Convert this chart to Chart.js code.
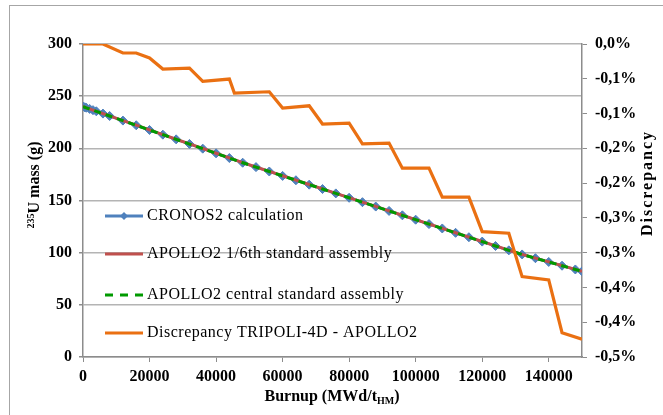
<!DOCTYPE html>
<html>
<head>
<meta charset="utf-8">
<script src="https://cdn.jsdelivr.net/npm/chart.js@4.4.1/dist/chart.umd.min.js"></script>
<style>
  html, body { margin: 0; padding: 0; background: #fff; }
  #wrap { width: 663px; height: 415px; position: relative; }
</style>
</head>
<body>
<div id="wrap"><canvas id="chart" width="663" height="415"></canvas></div>
<script>
// burnup steps (MWd/tHM) of the depletion calculations
const burnup = [0, 500, 1000, 2000, 3000, 4000, 6000, 8000, 12000, 16000, 20000, 24000, 28000, 32000,
  36000, 40000, 44000, 48000, 52000, 56000, 60000, 64000, 68000, 72000, 76000, 80000, 84000, 88000,
  92000, 96000, 100000, 104000, 108000, 112000, 116000, 120000, 124000, 128000, 132000, 136000,
  140000, 144000, 148000, 150000];
// 235U mass (g)
const cronos2 = [240.0, 239.4, 238.9, 237.8, 236.6, 235.5, 233.3, 231.0, 226.6, 222.1, 217.6, 213.1,
  208.6, 204.2, 199.7, 195.2, 190.7, 186.2, 182.0, 177.8, 173.6, 169.4, 165.2, 161.0, 156.8, 152.6,
  148.4, 144.2, 140.0, 135.8, 131.6, 127.4, 123.2, 119.0, 114.8, 110.6, 106.4, 102.2, 98.3, 94.7,
  91.1, 87.5, 83.9, 82.1];
const apolloSixth = [240.1, 239.5, 238.9, 237.8, 236.7, 235.5, 233.3, 231.1, 226.6, 222.2, 217.7, 213.2,
  208.7, 204.2, 199.8, 195.3, 190.8, 186.3, 182.1, 177.9, 173.7, 169.5, 165.3, 161.1, 156.9, 152.7,
  148.5, 144.3, 140.1, 135.9, 131.7, 127.5, 123.3, 119.1, 114.9, 110.7, 106.5, 102.3, 98.4, 94.8,
  91.2, 87.6, 84.0, 82.2];
const apolloCentral = [240.0, 239.4, 238.8, 237.7, 236.6, 235.4, 233.2, 231.0, 226.5, 222.1, 217.6, 213.1,
  208.6, 204.1, 199.7, 195.2, 190.7, 186.2, 182.0, 177.8, 173.6, 169.4, 165.2, 161.0, 156.8, 152.6,
  148.4, 144.2, 140.0, 135.8, 131.6, 127.4, 123.2, 119.0, 114.8, 110.6, 106.4, 102.2, 98.3, 94.7,
  91.1, 87.5, 83.9, 82.1];
// discrepancy TRIPOLI-4D - APOLLO2 (%)
const discBurnup = [0, 6000, 12000, 16000, 20000, 24000, 32000, 36000, 44000, 45500, 56000, 60000,
  68000, 72000, 80000, 84000, 92000, 96000, 104000, 108000, 116000, 120000, 128000, 132000,
  140000, 144000, 150000];
const discrepancy = [0.0, 0.0, -0.0144, -0.0144, -0.0224, -0.040, -0.0384, -0.0598, -0.056, -0.0784,
  -0.0763, -0.1023, -0.0987, -0.1279, -0.1263, -0.1594, -0.1583, -0.1983, -0.1983, -0.2446,
  -0.2446, -0.2997, -0.3022, -0.3716, -0.3769, -0.4612, -0.4717];

const seriesNames = ['CRONOS2 calculation', 'APOLLO2 1/6th standard assembly',
  'APOLLO2 central standard assembly', 'Discrepancy TRIPOLI-4D - APOLLO2'];
const xTicks = [0, 20000, 40000, 60000, 80000, 100000, 120000, 140000];
const leftTicks = [0, 50, 100, 150, 200, 250, 300];
const rightTickLabels = ['0,0%', '-0,1%', '-0,1%', '-0,2%', '-0,2%', '-0,3%', '-0,3%', '-0,4%', '-0,4%', '-0,5%'];

const FONT = '"Liberation Serif", "Times New Roman", serif';
const colors = ['#4f81bd', '#c0504d', '#009a00', '#ea7012'];

const pts = (xs, ys) => xs.map((x, i) => ({ x, y: ys[i] }));

const decor = {
  id: 'decor',
  beforeDraw(chart) {
    const ctx = chart.ctx;
    ctx.save();
    ctx.fillStyle = '#fff';
    ctx.fillRect(0, 0, chart.width, chart.height);
    ctx.strokeStyle = '#a6a6a6';
    ctx.lineWidth = 1;
    ctx.strokeRect(9.5, 5.5, 800, 600);
    ctx.restore();
  },
  afterDraw(chart) {
    const ctx = chart.ctx;
    const a = chart.chartArea;
    ctx.save();
    ctx.fillStyle = '#000';
    ctx.textBaseline = 'middle';

    // left title with superscript
    ctx.save();
    ctx.translate(35, 185);
    ctx.rotate(-Math.PI / 2);
    ctx.font = 'bold 10px ' + FONT;
    const sup = '235';
    const supW = ctx.measureText(sup).width;
    ctx.font = 'bold 16px ' + FONT;
    const mainT = 'U mass (g)';
    const mainW = ctx.measureText(mainT).width;
    let x0 = -(supW + mainW) / 2;
    ctx.textAlign = 'left';
    ctx.font = 'bold 10px ' + FONT;
    ctx.fillText(sup, x0, -4);
    ctx.font = 'bold 16px ' + FONT;
    ctx.fillText(mainT, x0 + supW, 0);
    ctx.restore();

    // right title
    ctx.save();
    ctx.translate(648, 183);
    ctx.rotate(-Math.PI / 2);
    ctx.textAlign = 'center';
    ctx.font = 'bold 16px ' + FONT;
    ctx.letterSpacing = '2px';
    ctx.fillText('Discrepancy', 0, 0);
    ctx.restore();

    // x title with subscript
    ctx.save();
    ctx.textAlign = 'left';
    const p1 = 'Burnup (MWd/t', p2 = 'HM', p3 = ')';
    ctx.font = 'bold 16px ' + FONT;
    const w1 = ctx.measureText(p1).width, w3 = ctx.measureText(p3).width;
    ctx.font = 'bold 10px ' + FONT;
    const w2 = ctx.measureText(p2).width;
    let sx = 332 - (w1 + w2 + w3) / 2;
    ctx.font = 'bold 16px ' + FONT;
    ctx.fillText(p1, sx, 397);
    ctx.font = 'bold 10px ' + FONT;
    ctx.fillText(p2, sx + w1, 401);
    ctx.font = 'bold 16px ' + FONT;
    ctx.fillText(p3, sx + w1 + w2, 397);
    ctx.restore();

    // legend inside plot
    const lx0 = a.left + 22, lx1 = a.left + 60, tx = a.left + 64;
    const rows = [a.top + 172, a.top + 210, a.top + 251, a.top + 289];
    seriesNames.forEach((name, i) => {
      const y = rows[i];
      ctx.save();
      ctx.strokeStyle = colors[i];
      ctx.lineWidth = 3;
      if (i === 2) ctx.setLineDash([8, 7]);
      ctx.beginPath();
      ctx.moveTo(lx0, y);
      ctx.lineTo(lx1, y);
      ctx.stroke();
      ctx.setLineDash([]);
      if (i === 0) {
        const cx = (lx0 + lx1) / 2, r = 4;
        ctx.fillStyle = colors[0];
        ctx.beginPath();
        ctx.moveTo(cx, y - r); ctx.lineTo(cx + r, y); ctx.lineTo(cx, y + r); ctx.lineTo(cx - r, y);
        ctx.closePath();
        ctx.fill();
      }
      ctx.fillStyle = '#000';
      ctx.font = '16px ' + FONT;
      ctx.letterSpacing = '0.5px';
      ctx.textAlign = 'left';
      ctx.fillText(name, tx, y);
      ctx.restore();
    });
    ctx.restore();
  }
};

new Chart(document.getElementById('chart'), {
  type: 'line',
  data: {
    datasets: [
      { label: seriesNames[3], data: pts(discBurnup, discrepancy), yAxisID: 'y1', order: 0,
        borderColor: colors[3], borderWidth: 3.2, pointRadius: 0, tension: 0 },
      { label: seriesNames[2], data: pts(burnup, apolloCentral), yAxisID: 'y', order: 1,
        borderColor: colors[2], borderWidth: 3, borderDash: [7, 5], pointRadius: 0 },
      { label: seriesNames[1], data: pts(burnup, apolloSixth), yAxisID: 'y', order: 2,
        borderColor: colors[1], borderWidth: 3, pointRadius: 0 },
      { label: seriesNames[0], data: pts(burnup, cronos2), yAxisID: 'y', order: 3,
        borderColor: colors[0], borderWidth: 2.5, pointStyle: 'rectRot', pointRadius: 4.5,
        pointBackgroundColor: colors[0], pointBorderColor: colors[0], pointBorderWidth: 1 }
    ]
  },
  options: {
    responsive: false,
    animation: false,
    devicePixelRatio: 1,
    layout: { padding: { top: 44, left: 0, right: 0, bottom: 0 } },
    plugins: { legend: { display: false }, tooltip: { enabled: false } },
    scales: {
      x: {
        type: 'linear', min: 0, max: 150000,
        afterBuildTicks: s => { s.ticks = xTicks.map(v => ({ value: v })); },
        afterFit: s => { s.height = 58; },
        ticks: { callback: v => String(v), color: '#000', padding: 5, maxRotation: 0,
          font: { family: FONT, size: 16, weight: 'bold' } },
        grid: { drawOnChartArea: false, drawTicks: true, tickLength: 5, color: '#8c8c8c' },
        border: { color: '#8c8c8c', width: 1.5 }
      },
      y: {
        position: 'left', min: 0, max: 300,
        afterBuildTicks: s => { s.ticks = leftTicks.map(v => ({ value: v })); },
        afterFit: s => { s.width = 83; },
        ticks: { color: '#000', padding: 7, font: { family: FONT, size: 16, weight: 'bold' } },
        grid: { color: '#b4b4b4', lineWidth: 1.5, tickLength: 4, tickColor: '#8c8c8c' },
        border: { color: '#8c8c8c', width: 1.5 }
      },
      y1: {
        position: 'right', min: -0.5, max: 0,
        afterBuildTicks: s => {
          const n = rightTickLabels.length - 1;
          s.ticks = rightTickLabels.map((_, i) => ({ value: -0.5 + 0.5 * i / n }));
        },
        afterFit: s => { s.width = 81; },
        ticks: {
          callback: v => rightTickLabels[Math.round(-v * 2 * (rightTickLabels.length - 1))],
          color: '#000', padding: 8, font: { family: FONT, size: 16, weight: 'bold' }
        },
        grid: { drawOnChartArea: false, tickLength: 5, color: '#8c8c8c' },
        border: { color: '#8c8c8c', width: 1.5 }
      }
    }
  },
  plugins: [decor]
});
</script>
</body>
</html>
